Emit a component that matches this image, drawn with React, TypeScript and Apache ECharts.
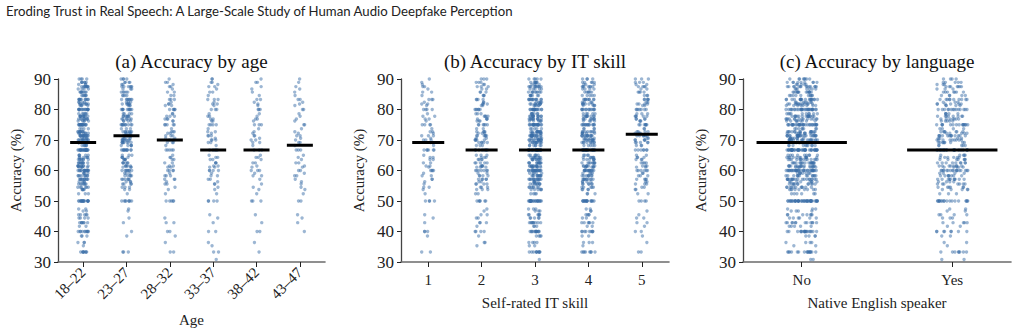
import React, { useEffect, useRef } from "react";
import * as echarts from "echarts";

// Accuracy levels (%) that participants' scores fall on
const levels = [
  30.8, 33.3, 35.3, 36.4, 38.5, 40, 41.7, 42.9, 44.4, 45.5, 46.7, 47.4, 50, 52.4, 53.8, 54.5, 55.6, 56.3,
  57.1, 58.3, 59.1, 60, 61.1, 61.5, 62.5, 63.6, 64.3, 65, 66.7, 68.2, 69.2, 70, 70.6, 71.4, 72.2, 72.7,
  73.7, 75, 76.2, 76.9, 77.8, 78.6, 80, 81.3, 81.8, 82.4, 83.3, 84.6, 85.7, 86.7, 87.5, 88.2, 88.9, 90,
];

// (a) by age: participant counts per accuracy level
const ageGroups = ["18–22", "23–27", "28–32", "33–37", "38–42", "43–47"];
const ageCounts = [
  [0, 8, 1, 3, 3, 10, 2, 7, 4, 5, 2, 2, 17, 3, 5, 6, 7, 4, 11, 9, 4, 16, 5, 9, 10, 8, 6, 5, 22, 6, 11, 11, 4, 15, 6, 9, 4, 17, 5, 9, 10, 6, 16, 4, 7, 4, 11, 6, 8, 4, 9, 3, 6, 4],
  [0, 3, 0, 0, 1, 1, 0, 1, 1, 0, 1, 1, 8, 1, 2, 3, 4, 3, 6, 5, 3, 8, 3, 5, 6, 5, 4, 3, 11, 5, 8, 8, 3, 12, 4, 7, 3, 10, 4, 6, 7, 4, 10, 3, 5, 3, 8, 4, 5, 3, 6, 2, 4, 4],
  [0, 2, 0, 1, 1, 2, 0, 2, 1, 0, 0, 0, 5, 1, 1, 1, 2, 1, 3, 3, 1, 4, 2, 2, 2, 2, 2, 1, 5, 1, 3, 4, 2, 3, 2, 3, 1, 5, 2, 3, 3, 2, 5, 2, 2, 1, 3, 2, 2, 1, 2, 1, 2, 1],
  [1, 2, 1, 1, 0, 2, 0, 1, 1, 1, 0, 0, 4, 1, 1, 1, 2, 1, 2, 2, 1, 4, 2, 2, 3, 2, 2, 1, 5, 1, 2, 3, 1, 3, 1, 2, 1, 4, 2, 2, 2, 1, 3, 1, 2, 1, 3, 1, 2, 1, 2, 1, 2, 2],
  [0, 1, 0, 1, 0, 2, 0, 1, 0, 1, 0, 0, 3, 1, 1, 1, 1, 0, 1, 2, 1, 3, 1, 1, 2, 1, 2, 1, 3, 1, 2, 2, 1, 2, 1, 1, 1, 3, 1, 2, 1, 1, 3, 1, 1, 1, 2, 1, 1, 1, 1, 0, 2, 1],
  [0, 0, 0, 0, 0, 1, 0, 1, 1, 1, 0, 0, 2, 1, 1, 1, 1, 1, 1, 2, 1, 2, 1, 1, 2, 1, 1, 1, 3, 1, 2, 1, 1, 2, 1, 1, 1, 2, 1, 1, 1, 1, 2, 1, 1, 1, 2, 1, 1, 1, 1, 0, 1, 1],
];
const ageMedians = [69.2, 71.4, 70.0, 66.7, 66.7, 68.3];

// (b) by self-rated IT skill
const itGroups = ["1", "2", "3", "4", "5"];
const itCounts = [
  [0, 2, 0, 0, 1, 3, 0, 1, 1, 1, 0, 0, 4, 1, 1, 2, 1, 1, 2, 2, 1, 4, 1, 2, 2, 2, 2, 1, 6, 1, 3, 3, 1, 3, 1, 2, 1, 4, 1, 2, 2, 1, 4, 1, 2, 1, 3, 1, 2, 1, 2, 1, 1, 1],
  [0, 0, 1, 2, 1, 4, 1, 3, 2, 2, 1, 1, 6, 2, 3, 3, 4, 2, 5, 4, 2, 7, 3, 4, 5, 4, 3, 3, 8, 3, 5, 5, 2, 6, 3, 4, 2, 6, 3, 4, 4, 3, 6, 2, 3, 2, 4, 3, 3, 2, 3, 2, 3, 3],
  [1, 10, 2, 4, 4, 13, 3, 9, 5, 6, 3, 3, 22, 4, 6, 7, 9, 5, 14, 11, 5, 20, 6, 11, 12, 10, 8, 6, 26, 7, 12, 13, 5, 17, 7, 11, 5, 20, 6, 11, 12, 7, 19, 5, 8, 5, 13, 7, 9, 5, 10, 4, 7, 5],
  [0, 8, 1, 3, 2, 9, 2, 6, 3, 4, 2, 2, 16, 3, 4, 5, 6, 4, 10, 8, 4, 14, 5, 8, 9, 7, 6, 4, 20, 5, 9, 10, 4, 13, 5, 8, 4, 14, 4, 8, 9, 5, 13, 4, 6, 4, 9, 5, 6, 4, 7, 3, 5, 4],
  [0, 2, 0, 1, 1, 2, 1, 2, 2, 1, 1, 0, 4, 2, 2, 2, 3, 2, 4, 3, 2, 6, 2, 3, 4, 3, 3, 2, 7, 3, 5, 5, 2, 7, 3, 4, 2, 7, 3, 4, 5, 3, 7, 2, 4, 2, 5, 3, 4, 2, 4, 2, 3, 3],
];
const itMedians = [69.2, 66.7, 66.7, 66.7, 71.9];

// (c) by native language
const langGroups = ["No", "Yes"];
const langCounts = [
  [2, 16, 2, 4, 4, 18, 5, 12, 6, 7, 4, 3, 42, 6, 9, 11, 12, 8, 20, 14, 8, 34, 9, 14, 18, 14, 12, 9, 44, 10, 18, 20, 8, 26, 10, 14, 8, 32, 9, 14, 16, 10, 30, 8, 12, 7, 20, 10, 14, 7, 14, 5, 9, 8],
  [2, 8, 1, 2, 2, 8, 2, 5, 3, 4, 2, 2, 18, 3, 5, 6, 7, 4, 10, 8, 4, 17, 5, 8, 9, 7, 6, 5, 20, 5, 9, 9, 4, 13, 5, 7, 4, 15, 5, 7, 8, 5, 14, 4, 6, 3, 10, 5, 7, 3, 7, 3, 5, 4],
];
const langMedians = [69.2, 66.7];

const yTicks = [30, 40, 50, 60, 70, 80, 90];

const SERIF = "Liberation Serif";
const POINT = "#3a6ea8";

// stable horizontal spread for the strip plot
function spread(n: number): number {
  const s = Math.sin(n * 12.9898 + 78.233) * 43758.5453;
  return s - Math.floor(s);
}

type Panel = {
  title: string;
  groups: string[];
  counts: number[][];
  medians: number[];
  xName: string;
  left: number;
  width: number;
  pad: number;
  jitter: number;
  rotate: number;
  labelMargin: number;
  nameGap: number;
};

const panels: Panel[] = [
  { title: "(a) Accuracy by age", groups: ageGroups, counts: ageCounts, medians: ageMedians, xName: "Age", left: 58, width: 267, pad: 0.58, jitter: 0.25, rotate: 45, labelMargin: 8, nameGap: 50 },
  { title: "(b) Accuracy by IT skill", groups: itGroups, counts: itCounts, medians: itMedians, xName: "Self-rated IT skill", left: 401, width: 268, pad: 0.51, jitter: 0.25, rotate: 0, labelMargin: 10, nameGap: 33 },
  { title: "(c) Accuracy by language", groups: langGroups, counts: langCounts, medians: langMedians, xName: "Native English speaker", left: 743, width: 268, pad: 0.39, jitter: 0.21, rotate: 0, labelMargin: 10, nameGap: 33 },
];

const MEDIAN_HALF = 0.3;
const TOP = 79;
const HEIGHT = 183;

export default function App() {
  const ref = useRef<HTMLDivElement>(null);

  useEffect(() => {
    if (!ref.current) return;
    const chart = echarts.init(ref.current, undefined, { renderer: "svg" });

    const grid: any[] = [];
    const xAxis: any[] = [];
    const yAxis: any[] = [];
    const series: any[] = [];
    const graphic: any[] = [
      {
        type: "text",
        left: 6,
        top: 4,
        style: { text: "Eroding Trust in Real Speech: A Large-Scale Study of Human Audio Deepfake Perception", font: "13.2px Lato", fill: "#222" },
      },
    ];

    let seed = 1;
    panels.forEach((p, i) => {
      const positions = p.groups.map((_, g) => g);
      grid.push({ left: p.left, top: TOP, width: p.width, height: HEIGHT });
      xAxis.push({
        type: "value",
        gridIndex: i,
        min: -p.pad,
        max: p.groups.length - 1 + p.pad,
        axisLine: { show: true, onZero: false, lineStyle: { color: "#6b6b6b", width: 1.6 } },
        axisTick: { show: true, customValues: positions, length: 5, lineStyle: { color: "#222", width: 1 } },
        axisLabel: {
          show: true,
          customValues: positions,
          formatter: (v: number) => p.groups[Math.round(v)] ?? "",
          fontFamily: SERIF,
          fontSize: 15,
          color: "#222",
          rotate: p.rotate,
          margin: p.labelMargin,
        },
        name: p.xName,
        nameLocation: "middle",
        nameGap: p.nameGap,
        nameTextStyle: { fontFamily: SERIF, fontSize: 15, color: "#222" },
        splitLine: { show: false },
      });
      yAxis.push({
        type: "value",
        gridIndex: i,
        min: yTicks[0],
        max: yTicks[yTicks.length - 1],
        interval: 10,
        axisLine: { show: true, onZero: false, lineStyle: { color: "#444", width: 1.3 } },
        axisTick: { show: true, length: 4, lineStyle: { color: "#222" } },
        axisLabel: { fontFamily: SERIF, fontSize: 17, color: "#222", margin: 7 },
        splitLine: { show: false },
        name: "Accuracy (%)",
        nameLocation: "middle",
        nameGap: 35,
        nameTextStyle: { fontFamily: SERIF, fontSize: 15, color: "#222" },
      });

      const pts: number[][] = [];
      p.counts.forEach((row, g) => {
        row.forEach((c, k) => {
          for (let j = 0; j < c; j++) {
            pts.push([g + (spread(seed++) - 0.5) * p.jitter, levels[k]]);
          }
        });
      });
      series.push({
        type: "scatter",
        xAxisIndex: i,
        yAxisIndex: i,
        data: pts,
        symbol: "circle",
        symbolSize: 3.4,
        itemStyle: { color: POINT, opacity: 0.5 },
        silent: true,
        z: 2,
      });
      p.medians.forEach((m, g) => {
        series.push({
          type: "line",
          xAxisIndex: i,
          yAxisIndex: i,
          data: [
            [g - MEDIAN_HALF, m],
            [g + MEDIAN_HALF, m],
          ],
          symbol: "none",
          lineStyle: { color: "#000", width: 3 },
          silent: true,
          z: 5,
        });
      });

      graphic.push({
        type: "text",
        x: p.left + p.width / 2,
        y: 61,
        style: { text: p.title, font: `19px ${SERIF}`, fill: "#111", textAlign: "center", textVerticalAlign: "middle" },
      });
    });

    chart.setOption({
      animation: false,
      textStyle: { fontFamily: SERIF },
      grid,
      xAxis,
      yAxis,
      series,
      graphic,
    });
    return () => chart.dispose();
  }, []);

  return <div ref={ref} style={{ position: "fixed", left: 0, top: 0, width: 1018, height: 334, background: "#fff" }} />;
}
